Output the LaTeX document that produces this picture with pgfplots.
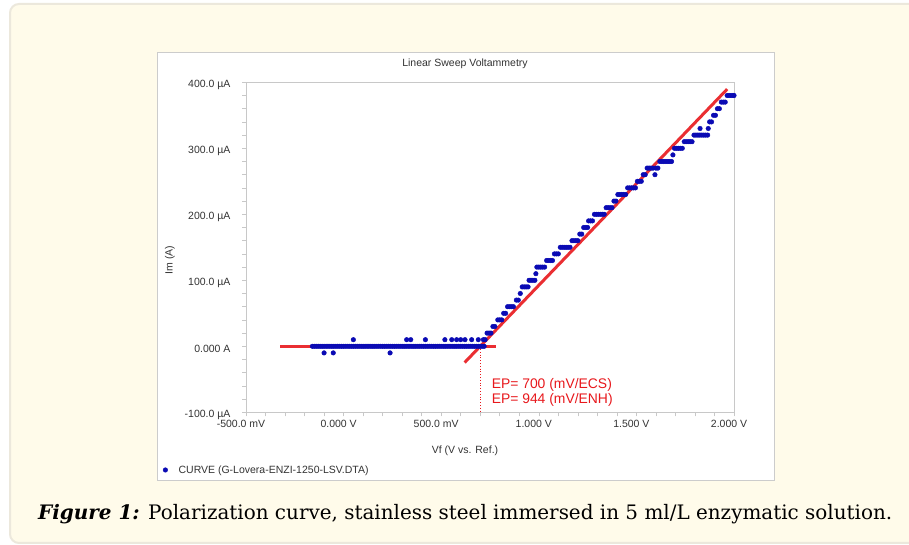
\documentclass[border=0pt]{standalone}
\usepackage{fontspec}
\setmainfont{Liberation Sans}
\newfontfamily\capfont{DejaVu Serif}
\usepackage{graphicx}
\usepackage{pgfplots}
\pgfplotsset{compat=1.18}
\definecolor{txt}{HTML}{333333}
\definecolor{cream}{HTML}{FFFBEA}
\definecolor{panelb}{HTML}{ECE8DC}
\definecolor{boxb}{HTML}{CCCCCC}
\definecolor{axb}{HTML}{C8C8C8}
\definecolor{dotblue}{HTML}{0A0AB4}
\definecolor{lred}{HTML}{E8181C}
\begin{document}
\begin{tikzpicture}[x=1pt,y=1pt]
\path[use as bounding box] (0,0) rectangle (909,545);
\fill[white] (0,0) rectangle (909,545);
\draw[draw=panelb, line width=2pt, fill=cream, rounded corners=9pt] (10,2) rectangle (935,541);
\draw[draw=boxb, line width=0.8pt, fill=white] (157,65) rectangle (774,493);
\begin{axis}[
  at={(246pt,132.7pt)}, anchor=south west,
  scale only axis, width=488pt, height=330pt,
  xmin=-0.5, xmax=2.0, ymin=-100, ymax=400,
  axis line style={draw=axb, line width=0.8pt},
  tick pos=left, tick align=outside,
  major tick length=4pt, minor tick length=4pt,
  every tick/.style={draw=axb, line width=0.6pt},
  xtick={-0.5,0,0.5,1,1.5,2},
  xticklabels={-500.0 mV, 0.000 V, 500.0 mV, 1.000 V, 1.500 V, 2.000 V},
  minor x tick num=4,
  ytick={-100,0,100,200,300,400},
  yticklabels={-100.0 µA, 0.000 A, 100.0 µA, 200.0 µA, 300.0 µA, 400.0 µA},
  minor y tick num=4,
  tick label style={font=\fontsize{10.5}{12}\selectfont, text=txt},
  xticklabel style={xshift=-5pt},
  yticklabel style={xshift=-8pt, yshift=-3pt},
  legend style={at={(axis description cs:-0.1707,-0.1748)}, anchor=west, draw=none, fill=none,
    inner sep=0pt, font=\fontsize{10.5}{12}\selectfont, text=txt,
    nodes={inner sep=0pt}},
  legend image code/.code={\fill[dotblue] (0pt,0pt) circle (2.3pt); \path (-2.3pt,0pt) (13pt,0pt);},
]
\addplot[only marks, mark=*, mark size=2.3pt, mark options={draw=dotblue, fill=dotblue}] coordinates {
(-0.16,0) (-0.15,0) (-0.14,0) (-0.13,0) (-0.12,0) (-0.11,0) (-0.10,0) (-0.09,0) (-0.08,0) (-0.07,0)
(-0.06,0) (-0.05,0) (-0.04,0) (-0.03,0) (-0.02,0) (-0.01,0) (0.00,0) (0.01,0) (0.02,0) (0.03,0)
(0.04,0) (0.05,0) (0.06,0) (0.07,0) (0.08,0) (0.09,0) (0.10,0) (0.11,0) (0.12,0) (0.13,0)
(0.14,0) (0.15,0) (0.16,0) (0.17,0) (0.18,0) (0.19,0) (0.20,0) (0.21,0) (0.22,0) (0.23,0)
(0.24,0) (0.25,0) (0.26,0) (0.27,0) (0.28,0) (0.29,0) (0.30,0) (0.31,0) (0.32,0) (0.33,0)
(0.34,0) (0.35,0) (0.36,0) (0.37,0) (0.38,0) (0.39,0) (0.40,0) (0.41,0) (0.42,0) (0.43,0)
(0.44,0) (0.45,0) (0.46,0) (0.47,0) (0.48,0) (0.49,0) (0.50,0) (0.51,0) (0.52,0) (0.53,0)
(0.54,0) (0.55,0) (0.56,0) (0.57,0) (0.58,0) (0.59,0) (0.60,0) (0.61,0) (0.62,0) (0.63,0)
(0.64,0) (0.65,0) (0.66,0) (0.67,0) (0.68,0) (0.69,0) (0.70,0) (0.71,0) (0.72,0)
(-0.10,-10) (-0.053,-10) (0.238,-10)
(0.05,10) (0.323,10) (0.344,10) (0.419,10) (0.519,10) (0.554,10) (0.579,10) (0.600,10)
(0.622,10) (0.656,10) (0.690,10) (0.716,10) (0.725,10)
(0.735,20) (0.745,20) (0.755,20)
(0.765,30) (0.775,30)
(0.79,40) (0.80,40) (0.81,40)
(0.82,50) (0.83,50)
(0.84,60) (0.85,60) (0.86,60) (0.87,60)
(0.885,70) (0.895,70)
(0.905,80)
(0.915,90) (0.925,90) (0.935,90) (0.945,90)
(0.95,100) (0.96,100) (0.97,100) (0.98,100)
(0.985,110)
(0.99,120) (1.00,120) (1.01,120) (1.02,120) (1.03,120)
(1.04,130) (1.05,130) (1.06,130) (1.07,130)
(1.08,140) (1.09,140) (1.10,140)
(1.11,150) (1.12,150) (1.13,150) (1.14,150) (1.15,150) (1.16,150)
(1.17,160) (1.18,160) (1.19,160) (1.20,160)
(1.21,170) (1.22,170)
(1.23,180) (1.24,180) (1.25,180)
(1.255,190) (1.265,190) (1.275,190)
(1.285,200) (1.295,200) (1.305,200) (1.315,200) (1.325,200) (1.335,200)
(1.345,210) (1.355,210) (1.365,210) (1.375,210)
(1.385,220) (1.395,220)
(1.405,230) (1.415,230) (1.425,230) (1.435,230) (1.445,230)
(1.455,240) (1.465,240) (1.475,240) (1.485,240) (1.495,240)
(1.505,250) (1.515,250) (1.525,250)
(1.535,260) (1.545,260) (1.595,260)
(1.555,270) (1.565,270) (1.575,270) (1.585,270) (1.60,270) (1.61,270)
(1.62,280) (1.63,280) (1.64,280) (1.65,280) (1.66,280) (1.67,280) (1.68,280)
(1.687,290)
(1.695,300) (1.705,300) (1.715,300) (1.725,300) (1.735,300)
(1.745,310) (1.755,310) (1.765,310) (1.775,310) (1.785,310)
(1.795,320) (1.805,320) (1.815,320) (1.825,320) (1.835,320) (1.845,320) (1.855,320) (1.865,320)
(1.826,330) (1.868,330)
(1.875,340) (1.885,340)
(1.895,350) (1.905,350)
(1.915,360) (1.925,360)
(1.935,370) (1.945,370) (1.955,370)
(1.965,380) (1.975,380) (1.985,380) (1.995,380) (2.0,380)
};
\addlegendentry{CURVE (G-Lovera-ENZI-1250-LSV.DTA)}
\addplot[lred, line width=3pt, opacity=0.9, forget plot] coordinates {(-0.325,0) (0.78,0)};
\addplot[lred, line width=3pt, opacity=0.9, forget plot] coordinates {(0.62,-24.6) (1.965,389.6)};
\addplot[lred, line width=0.8pt, dotted, forget plot] coordinates {(0.7,0) (0.7,-100)};
\node[anchor=west, text=lred, align=left, inner sep=0pt, font=\fontsize{13.9}{15.5}\selectfont] at (axis cs:0.758,-70) {EP= 700 (mV/ECS)\\EP= 944 (mV/ENH)};
\end{axis}
\node[text=txt, font=\fontsize{10.5}{12}\selectfont] at (465,481.7) {Linear Sweep Voltammetry};
\node[text=txt, font=\fontsize{10.5}{12}\selectfont] at (465,94.3) {Vf (V vs. Ref.)};
\node[text=txt, font=\fontsize{10.5}{12}\selectfont, rotate=90] at (170,285) {Im (A)};
\node[anchor=base west, inner sep=0pt] at (38,25) {\resizebox{854pt}{!}{\fontsize{17}{20}\selectfont\capfont\textbf{\textit{Figure 1:}} Polarization curve, stainless steel immersed in 5 ml/L enzymatic solution.}};
\end{tikzpicture}
\end{document}
